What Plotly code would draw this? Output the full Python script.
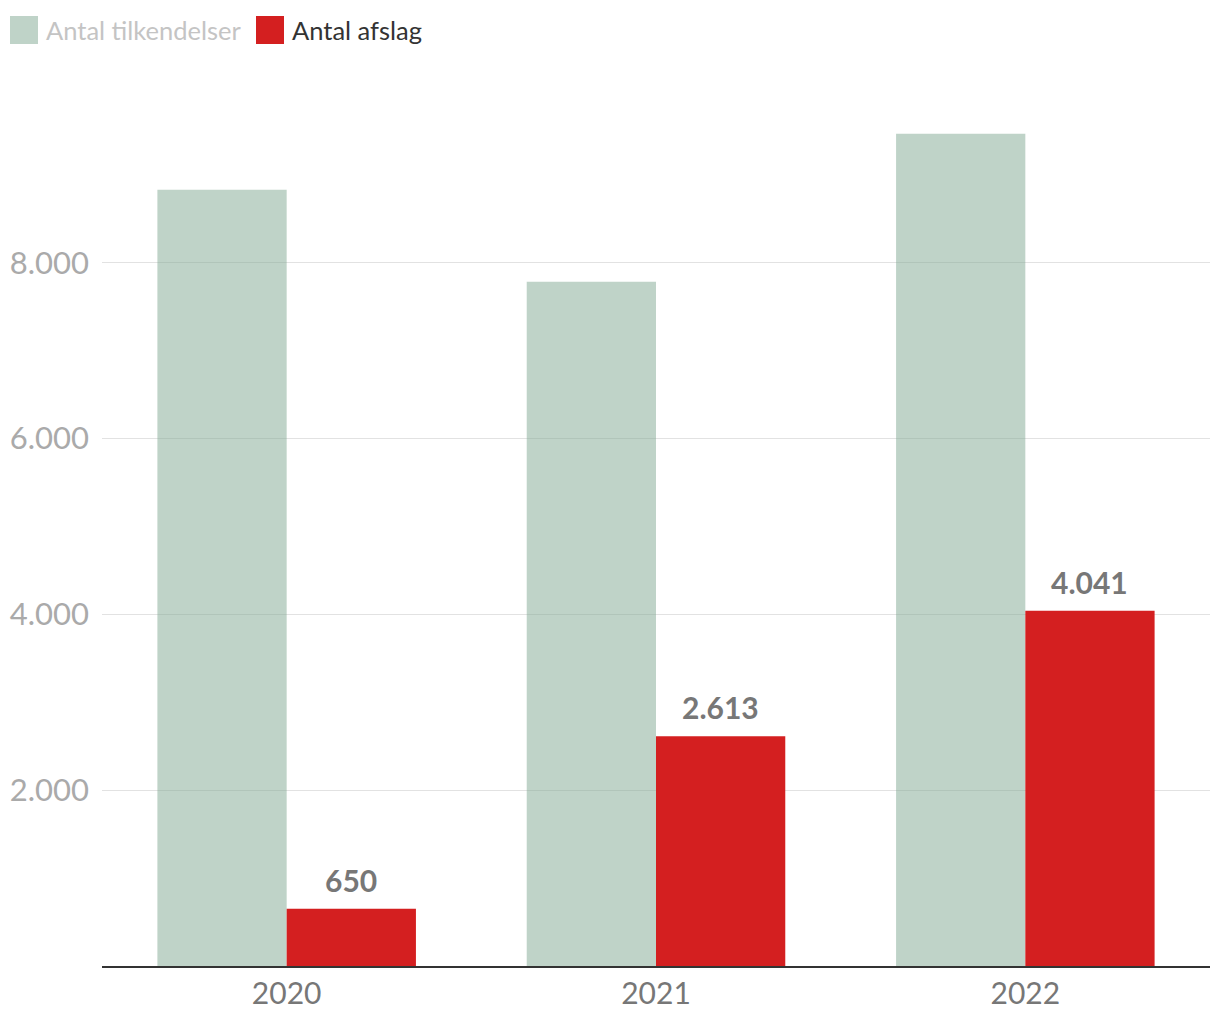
import plotly.graph_objects as go

years = ["2020", "2021", "2022"]
tilkendelser = [8831, 7784, 9468]
afslag = [650, 2613, 4041]
y_ticks = [2000, 4000, 6000, 8000]
y_tick_labels = ["2.000", "4.000", "6.000", "8.000"]
legend_names = ["Antal tilkendelser", "Antal afslag"]

FONT = "Lato"
GREEN = "rgba(127,167,145,0.5)"
RED = "#d41f20"

fig = go.Figure()
fig.add_trace(go.Bar(
    x=years, y=tilkendelser, name=legend_names[0],
    marker=dict(color=GREEN, line=dict(width=0)),
    hoverinfo="skip",
))
fig.add_trace(go.Bar(
    x=years, y=afslag, name=legend_names[1],
    marker=dict(color=RED, line=dict(width=0)),
    hoverinfo="skip",
))

# value labels above red bars (x = category index)
for i, v in enumerate(afslag):
    fig.add_annotation(
        x=i, y=v, xref="x", yref="y",
        text=f"{v:,}".replace(",", "."),
        showarrow=False, xanchor="center", yanchor="bottom",
        xshift=64.5, yshift=9,
        font=dict(family=FONT, size=30, color="#777777", weight="bold"),
    )

# manual legend (large square swatches)
W_PLOT = 1108.0
H_PLOT = 879.0
L = 94.0
B = 958.0
def px(xp):
    return (xp - L) / W_PLOT
def py(yp):
    return (B - yp) / H_PLOT

legend_items = [
    (2, "#bfd3c8", "#c4c4c4", legend_names[0]),
    (248, RED, "#333333", legend_names[1]),
]
for x0, col, tcol, label in legend_items:
    fig.add_shape(
        type="rect", xref="paper", yref="paper",
        x0=px(x0), x1=px(x0 + 28), y0=py(36), y1=py(8),
        fillcolor=col, line=dict(width=0),
    )
    fig.add_annotation(
        x=px(x0 + 34), y=py(22), xref="paper", yref="paper",
        text=label, showarrow=False, xanchor="left", yanchor="middle",
        font=dict(family=FONT, size=25.5, color=tcol),
    )

fig.update_layout(
    width=1212, height=1012,
    separators=",.",
    barmode="group", bargap=0.30, bargroupgap=0,
    plot_bgcolor="white", paper_bgcolor="white",
    margin=dict(l=94, r=10, t=79, b=54, autoexpand=False),
    font=dict(family=FONT, color="#333333"),
    showlegend=False,
    xaxis=dict(
        type="category", categoryorder="array", categoryarray=years,
        range=[-0.5, 2.5], automargin=False,
        showgrid=False, showline=True, linecolor="#333333", linewidth=2,
        ticks="", tickfont=dict(family=FONT, size=30, color="#777777"),
    ),
    yaxis=dict(
        range=[0, 10000], tickvals=y_ticks, ticktext=y_tick_labels,
        automargin=False,
        showgrid=True, gridcolor="#e2e2e2", gridwidth=1,
        zeroline=False, showline=False, ticks="",
        tickfont=dict(family=FONT, size=31, color="#aaaaaa"),
        ticklabelstandoff=12,
    ),
)

fig.write_html("out.html")
